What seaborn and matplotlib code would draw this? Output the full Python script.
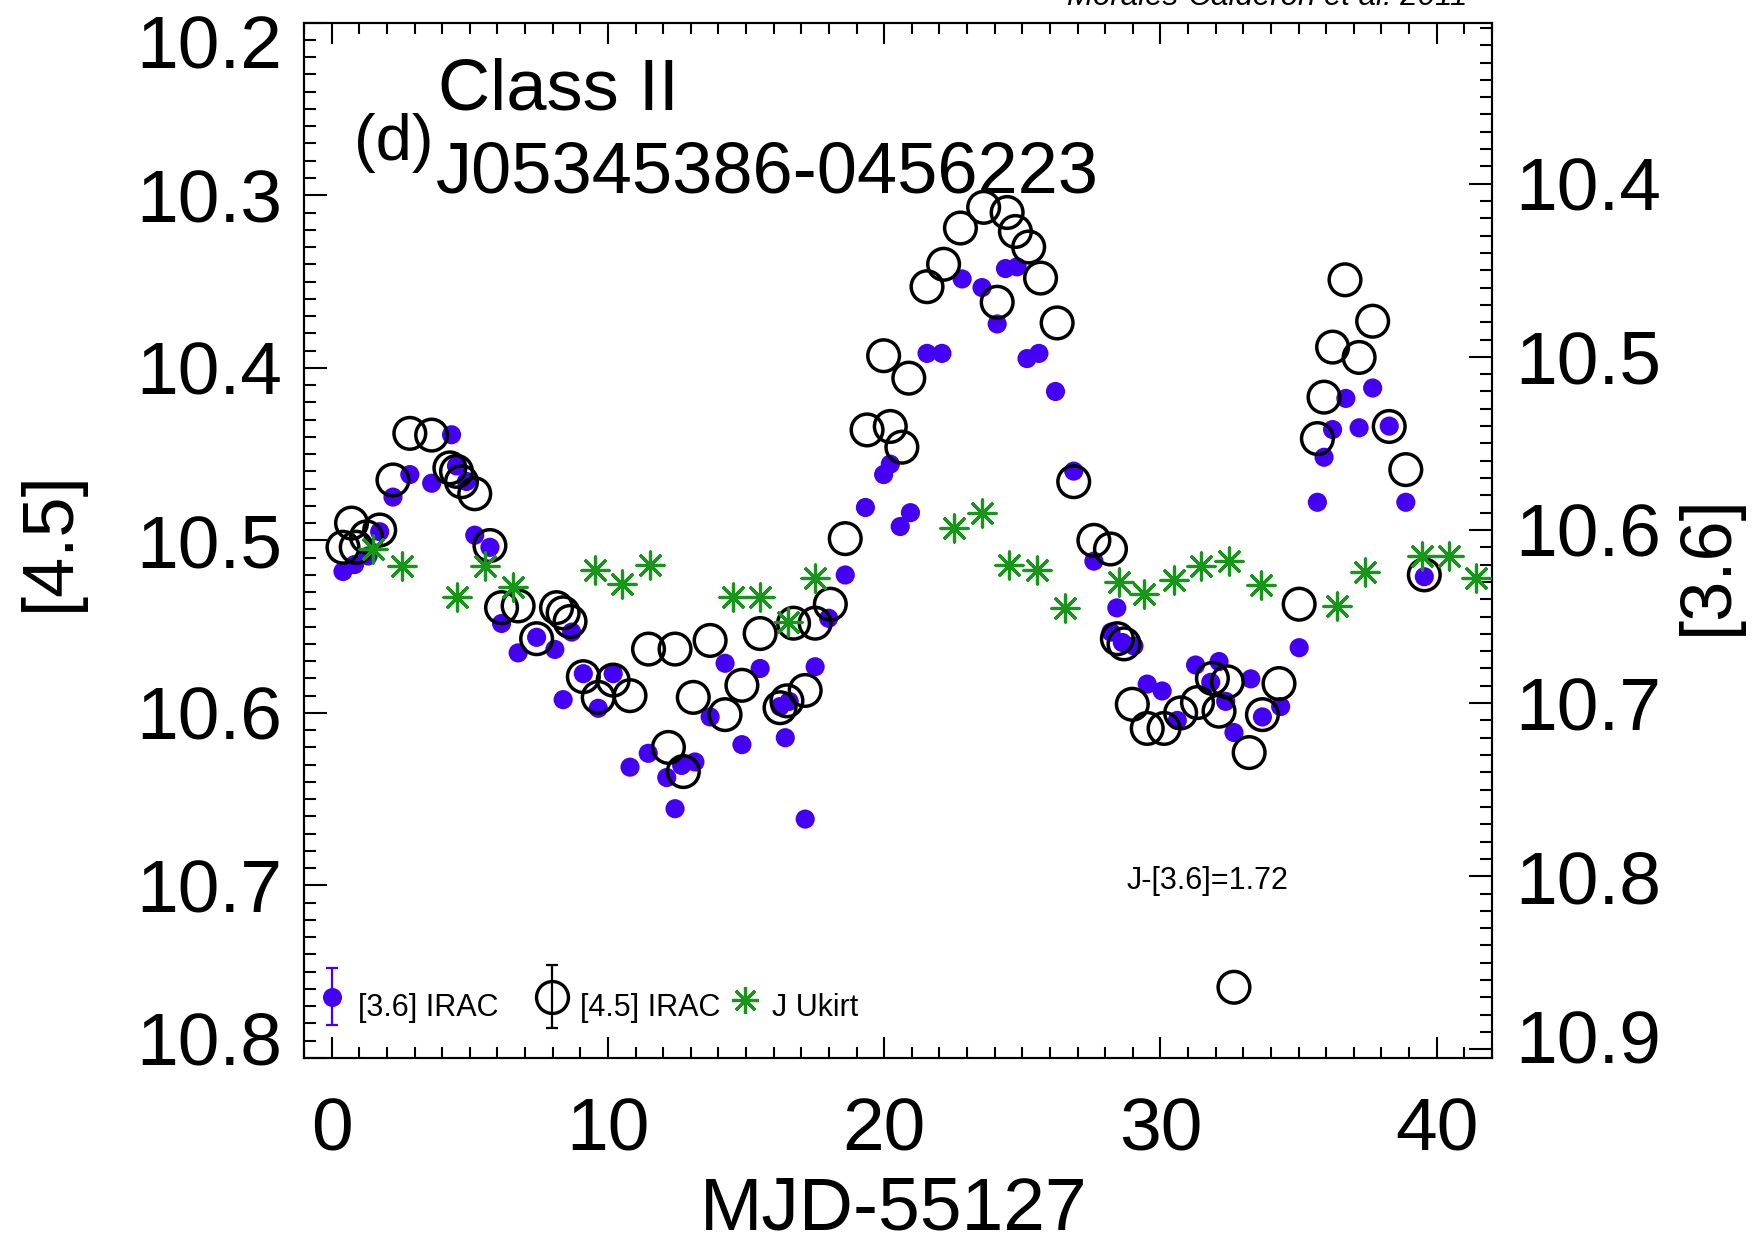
import numpy as np
import pandas as pd
import matplotlib
matplotlib.use("Agg")
import matplotlib.pyplot as plt
import matplotlib.transforms as mtransforms
from matplotlib.ticker import MultipleLocator, FixedLocator, FormatStrFormatter
import seaborn as sns

# ---------------- data ----------------
# [3.6] IRAC (filled blue points, right axis)
t36 = [0.41, 0.83, 1.32, 1.74, 2.22, 2.83, 3.62, 4.34, 4.52, 4.88,
       5.18, 5.73, 6.15, 6.75, 7.42, 8.08, 8.38, 8.69, 9.11, 9.65,
       10.19, 10.80, 11.46, 12.13, 12.43, 12.67, 13.15, 13.70, 14.24, 14.85,
       15.51, 16.23, 16.42, 16.56, 17.14, 17.50, 17.99, 18.59, 19.32, 19.98,
       20.22, 20.58, 20.95, 21.55, 22.09, 22.82, 23.54, 24.09, 24.39, 24.81,
       25.17, 25.60, 26.20, 26.86, 27.59, 28.21, 28.42, 28.62, 29.04, 29.52,
       30.06, 30.61, 31.27, 31.82, 32.12, 32.36, 32.66, 33.27, 33.69, 34.35,
       35.02, 35.68, 35.92, 36.23, 36.71, 37.19, 37.68, 38.28, 38.88, 39.55]
m36 = [10.624, 10.620, 10.615, 10.601, 10.581, 10.568, 10.573, 10.545, 10.563, 10.572,
       10.603, 10.610, 10.654, 10.671, 10.662, 10.669, 10.698, 10.659, 10.683, 10.703,
       10.683, 10.737, 10.729, 10.743, 10.761, 10.736, 10.734, 10.708, 10.677, 10.724,
       10.680, 10.702, 10.720, 10.699, 10.767, 10.679, 10.651, 10.626, 10.587, 10.568,
       10.562, 10.598, 10.590, 10.498, 10.498, 10.455, 10.460, 10.481, 10.449, 10.448,
       10.501, 10.498, 10.520, 10.566, 10.618, 10.659, 10.645, 10.665, 10.667, 10.689,
       10.693, 10.710, 10.678, 10.688, 10.676, 10.699, 10.717, 10.686, 10.708, 10.702,
       10.668, 10.584, 10.558, 10.542, 10.524, 10.541, 10.518, 10.540, 10.584, 10.627]

# [4.5] IRAC (open black circles, left axis)
t45 = [0.41, 0.72, 0.89, 1.26, 1.74, 2.22, 2.83, 3.62, 4.28, 4.52,
       4.70, 5.18, 5.73, 6.15, 6.75, 7.42, 8.14, 8.38, 8.63, 9.11,
       9.65, 10.19, 10.80, 11.47, 12.19, 12.43, 12.73, 13.09, 13.70, 14.24,
       14.85, 15.51, 16.23, 16.48, 16.72, 17.14, 17.50, 18.05, 18.59, 19.38,
       19.98, 20.22, 20.64, 20.89, 21.55, 22.15, 22.76, 23.60, 24.09, 24.45,
       24.75, 25.23, 25.66, 26.26, 26.86, 27.59, 28.19, 28.44, 28.68, 28.98,
       29.52, 30.13, 30.73, 31.34, 31.88, 32.12, 32.42, 32.66, 33.21, 33.69,
       34.29, 35.02, 35.68, 35.92, 36.23, 36.68, 37.19, 37.68, 38.28, 38.88,
       39.55]
m45 = [10.504, 10.490, 10.504, 10.498, 10.494, 10.465, 10.438, 10.439, 10.458, 10.460,
       10.466, 10.473, 10.503, 10.539, 10.538, 10.557, 10.539, 10.542, 10.547, 10.579,
       10.591, 10.581, 10.590, 10.563, 10.620, 10.563, 10.634, 10.591, 10.558, 10.601,
       10.584, 10.554, 10.597, 10.593, 10.548, 10.587, 10.548, 10.537, 10.499, 10.436,
       10.393, 10.434, 10.446, 10.406, 10.353, 10.340, 10.319, 10.307, 10.362, 10.310,
       10.321, 10.330, 10.348, 10.374, 10.466, 10.500, 10.505, 10.557, 10.560, 10.595,
       10.609, 10.609, 10.600, 10.594, 10.580, 10.599, 10.582, 10.759, 10.623, 10.601,
       10.583, 10.537, 10.441, 10.417, 10.388, 10.349, 10.394, 10.373, 10.434, 10.459,
       10.520]

# J Ukirt shifted by J-[3.6]=1.72 (green asterisks, right axis)
tJ = [1.50, 2.53, 4.52, 5.55, 6.57, 9.53, 10.50, 11.53, 14.54, 15.51,
      16.53, 17.50, 22.51, 23.54, 24.51, 25.53, 26.56, 28.49, 29.40, 30.49,
      31.45, 32.48, 33.63, 36.38, 37.40, 39.45, 40.45, 41.42]
mJ_shifted = [10.611, 10.621, 10.639, 10.621, 10.633, 10.623, 10.631, 10.620, 10.639, 10.639,
              10.653, 10.628, 10.599, 10.590, 10.620, 10.623, 10.645, 10.630, 10.637, 10.629,
              10.621, 10.618, 10.632, 10.644, 10.624, 10.615, 10.615, 10.628]

left_ticks = [10.2, 10.3, 10.4, 10.5, 10.6, 10.7, 10.8]
right_ticks = [10.4, 10.5, 10.6, 10.7, 10.8, 10.9]
x_ticks = [0, 10, 20, 30, 40]

BLUE = "#4300f5"
GREEN = "#18961a"

# ---------------- figure ----------------
sns.set_theme(style="ticks")
plt.rcParams["font.family"] = ["Liberation Sans", "DejaVu Sans"]
plt.rcParams.update({
    "axes.edgecolor": "black",
    "axes.linewidth": 1.5,
    "text.color": "black",
    "axes.labelcolor": "black",
    "xtick.color": "black",
    "ytick.color": "black",
})

fig = plt.figure(figsize=(17.52, 12.47), dpi=100)
ax = fig.add_axes([0.17352, 0.15156, 0.67808, 0.83023])
ax.set_facecolor("white")

ax36 = ax.twinx()   # [3.6] scale, visible right axis
ax45 = ax.twinx()   # [4.5] scale, hidden (circles drawn above blue dots)
axJ = ax.twinx()    # [3.6] scale, hidden (asterisks on top)
for a in (ax45, axJ):
    a.axis("off")

df36 = pd.DataFrame({"MJD": t36, "mag": m36})
df45 = pd.DataFrame({"MJD": t45, "mag": m45})
dfJ = pd.DataFrame({"MJD": tJ, "mag": mJ_shifted})

sns.scatterplot(data=df36, x="MJD", y="mag", ax=ax36, marker="o", s=190,
                color=BLUE, edgecolor="none", linewidth=0, zorder=3)
sns.scatterplot(data=df45, x="MJD", y="mag", ax=ax45, marker="o", s=520,
                facecolor="none", edgecolor="black", linewidth=2.5, zorder=3)
sns.scatterplot(data=dfJ, x="MJD", y="mag", ax=axJ, marker=(8, 2, 0), s=380,
                color=GREEN, linewidth=2.3, zorder=3)

# limits
ax.set_xlim(-1, 42)
ax.set_ylim(10.8, 10.2)
ax45.set_ylim(10.8, 10.2)
ax36.set_ylim(10.905, 10.307)
axJ.set_ylim(10.905, 10.307)

# ticks
ax.xaxis.set_major_locator(FixedLocator(x_ticks))
ax.xaxis.set_minor_locator(MultipleLocator(1))
ax.xaxis.set_major_formatter(FormatStrFormatter("%d"))
ax.yaxis.set_major_locator(FixedLocator(left_ticks))
ax.yaxis.set_minor_locator(MultipleLocator(0.01))
ax.yaxis.set_major_formatter(FormatStrFormatter("%.1f"))
ax36.yaxis.set_major_locator(FixedLocator(right_ticks))
ax36.yaxis.set_minor_locator(MultipleLocator(0.01))
ax36.yaxis.set_major_formatter(FormatStrFormatter("%.1f"))

ax.tick_params(which="both", direction="in", top=True, bottom=True, left=True,
               right=False, labeltop=False, width=1.5, color="black",
               labelcolor="black")
ax.tick_params(axis="x", which="major", length=15, pad=28, labelsize=54)
ax.tick_params(axis="x", which="minor", length=8)
ax.tick_params(axis="y", which="major", length=16.5, pad=16, labelsize=54)
ax.tick_params(axis="y", which="minor", length=8.3)
ax36.tick_params(axis="y", which="both", direction="in", right=True, left=False,
                 width=1.5, color="black", labelcolor="black")
ax36.tick_params(axis="y", which="major", length=16.5, pad=17, labelsize=54)
ax36.tick_params(axis="y", which="minor", length=8.3)
for a in (ax, ax36):
    for sp in a.spines.values():
        sp.set_linewidth(1.5)
        sp.set_color("black")

# axis labels
ax.set_xlabel("MJD-55127", fontsize=54, va="baseline", color="black")
ax.xaxis.set_label_coords(0.4966, -0.1652)
ax.set_ylabel("[4.5]", fontsize=52, color="black")
ax.yaxis.label.set_va("center")
ax.yaxis.set_label_coords(-0.2138, 0.4996)
ax36.set_ylabel("[3.6]", fontsize=52, color="black")
ax36.yaxis.label.set_va("center")
ax36.yaxis.set_label_coords(1.1818, 0.477)

# annotations
axJ.text(0.1128, 0.9157, "Class II", transform=axJ.transAxes, fontsize=52,
         ha="left", va="baseline", color="black")
axJ.text(0.0425, 0.8674, "(d)", transform=axJ.transAxes, fontsize=47,
         ha="left", va="baseline", color="black")
axJ.text(0.1111, 0.8357, "J05345386-0456223", transform=axJ.transAxes,
         fontsize=52, ha="left", va="baseline", color="black")
axJ.text(0.6928, 0.1632, "J-[3.6]=1.72", transform=axJ.transAxes, fontsize=22,
         ha="left", va="baseline", color="black")
fig.text(1067 / 1752, 1 - 5 / 1247, "Morales-Calderon et al. 2011",
         fontsize=22.5, style="italic", ha="left", va="baseline", color="black")

# legend (drawn IDL-style in axes coordinates)
tr = axJ.transAxes
# [3.6] IRAC
axJ.plot([0.0233, 0.0233], [0.0319, 0.0869], color=BLUE, lw=1.6, transform=tr)
axJ.plot([0.0233, 0.0233], [0.0319, 0.0869], ls="none", marker="_", ms=8,
         mew=1.6, color=BLUE, transform=tr)
axJ.plot([0.0233], [0.0592], ls="none", marker="o", ms=13.7, color=BLUE,
         mec="none", transform=tr)
axJ.text(0.0455, 0.0406, "[3.6] IRAC", transform=tr, fontsize=22,
         va="baseline", color="black")
# [4.5] IRAC
axJ.plot([0.2085], [0.0592], ls="none", marker="o", ms=23, mfc="white",
         mec="black", mew=2.4, transform=tr)
axJ.plot([0.2085, 0.2085], [0.0290, 0.0898], color="black", lw=1.6, transform=tr)
axJ.plot([0.2085, 0.2085], [0.0290, 0.0898], ls="none", marker="_", ms=8,
         mew=1.6, color="black", transform=tr)
axJ.text(0.2323, 0.0406, "[4.5] IRAC", transform=tr, fontsize=22,
         va="baseline", color="black")
# J Ukirt
axJ.plot([0.3712], [0.0560], ls="none", marker=(8, 2, 0), ms=19.5, mew=2.3,
         color=GREEN, transform=tr)
axJ.text(0.3939, 0.0406, "J Ukirt", transform=tr, fontsize=22,
         va="baseline", color="black")

# IDL-like placement of the end tick labels
fig.canvas.draw()


def shift(labels, text, dy_px):
    for lab in labels:
        if lab.get_text() == text:
            lab.set_transform(lab.get_transform() + mtransforms.ScaledTranslation(
                0, dy_px / fig.dpi, fig.dpi_scale_trans))


shift(ax.get_yticklabels(), "10.2", -19)
shift(ax.get_yticklabels(), "10.8", 21)
shift(ax36.get_yticklabels(), "10.9", 13)

fig.savefig("out.png", dpi=100)
